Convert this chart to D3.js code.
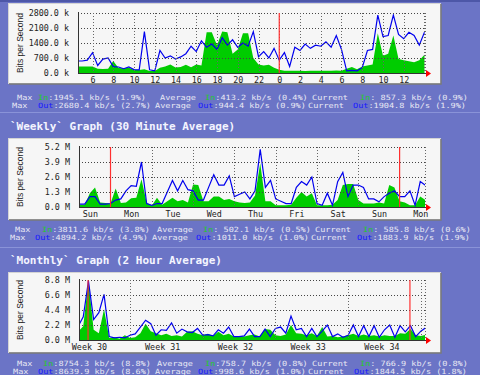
<!DOCTYPE html>
<html>
<head>
<meta charset="utf-8">
<script src="https://cdn.jsdelivr.net/npm/d3@7"></script>
<style>
html, body { margin: 0; padding: 0; background: #6b74c6; }
svg { display: block; }
text { white-space: pre; }
</style>
</head>
<body>
<svg id="chart" width="480" height="375"></svg>
<script>
// ===============================
// Data
// ===============================

// Daily graph: samples every 0.5 h, hours relative to midnight
const dailyStart = -19.5, dailyStep = 0.5;
const dailyIn = [300, 300, 300, 300, 200, 190, 200, 560, 230, 220, 240, 150, 140, 180, 90, 90,
    250, 300, 400, 260, 280, 380, 270, 400, 350, 1900, 1900, 1300, 1940, 1900, 900, 1100,
    1850, 1850, 700, 400, 350, 380, 250, 150, 100, 110, 100, 100, 90, 110, 100, 100,
    110, 100, 120, 100, 200, 280, 180, 300, 350, 400, 1850, 800, 900, 1750, 650, 600,
    550, 500, 600, 850];
const dailyOut = [560, 560, 600, 950, 350, 650, 700, 300, 280, 200, 280, 160, 150, 1930, 150, 100,
    1050, 700, 800, 650, 750, 900, 1250, 1000, 1500, 1200, 1350, 1100, 1650, 1300, 1550, 1200,
    1400, 1250, 1930, 760, 1000, 700, 1150, 600, 950, 300, 1200, 1050, 1350, 1150, 1300, 1250,
    1450, 1200, 1750, 1100, 100, 120, 100, 250, 1050, 1100, 2700, 1700, 1750, 2700, 1800, 1600,
    1900, 1750, 1300, 1900];
const dailyHourTicks = [-18, -16, -14, -12, -10, -8, -6, -4, -2, 0, 2, 4, 6, 8, 10, 12];
const dailyYTicks = [0, 700, 1400, 2100, 2800];
const dailyYLabels = ["0.0 k", "700.0 k", "1400.0 k", "2100.0 k", "2800.0 k"];

// Weekly graph: samples every 3 h, days relative to Monday 00:00
const weeklyStart = -0.75, weeklyStep = 0.125;
const weeklyIn = [0.2, 0.2, 1.2, 1.7, 0.4, 0.35, 0.3, 1.6, 0.35, 0.4, 0.75, 0.8, 2.4, 0.4, 0.1, 0.8,
    0.2, 0.5, 0.8, 0.5, 0.6, 0.4, 1.95, 1.9, 0.5, 0.5, 0.9, 0.9, 0.6, 0.7, 0.5, 0.4,
    0.35, 0.4, 1.0, 3.8, 0.5, 0.5, 0.15, 0.15, 0.15, 0.2, 0.8, 1.3, 0.9, 1.2, 0.15, 0.15,
    0.15, 0.2, 0.6, 1.9, 2.0, 2.0, 0.6, 0.3, 0.3, 0.3, 0.4, 0.3, 1.9, 1.7, 0.5, 0.4,
    0.15, 0.15, 0.9, 0.6];
const weeklyOut = [0.25, 0.25, 0.9, 0.9, 0.25, 0.25, 0.3, 0.6, 0.7, 1.4, 1.85, 1.8, 3.9, 0.3, 0.15, 0.3,
    0.3, 1.3, 2.3, 1.4, 2.3, 1.5, 1.4, 0.6, 0.6, 1.7, 2.8, 1.9, 1.9, 2.7, 0.9, 1.1,
    1.3, 0.7, 1.4, 5.0, 1.7, 2.3, 0.7, 0.5, 0.3, 0.3, 1.7, 2.2, 1.9, 2.6, 0.3, 0.15,
    1.2, 0.15, 2.2, 3.0, 0.9, 1.9, 1.9, 1.7, 0.7, 0.7, 0.45, 0.9, 1.2, 1.4, 0.9, 0.9,
    1.4, 0.15, 2.2, 1.88];
const weekDays = ["Sun", "Mon", "Tue", "Wed", "Thu", "Fri", "Sat", "Sun", "Mon"];
const weekDayPos = [-0.5, 0.5, 1.5, 2.5, 3.5, 4.5, 5.5, 6.5, 7.5];
const weeklyYTicks = [0, 1.3, 2.6, 3.9, 5.2];
const weeklyYLabels = ["0.0 M", "1.3 M", "2.6 M", "3.9 M", "5.2 M"];

// Monthly graph: samples every 12 h, days relative to start of week 31
const monthlyStart = -5, monthlyStep = 0.5;
const monthlyIn = [1.2, 2.0, 8.75, 1.5, 1.0, 4.5, 0.3, 0.4, 0.2, 0.7,
    0.3, 0.4, 1.0, 2.4, 1.3, 1.0, 0.7, 0.9, 0.6, 0.7,
    0.5, 1.2, 1.3, 0.9, 0.7, 0.9, 0.6, 1.2, 0.7, 0.9,
    0.5, 0.6, 0.5, 0.7, 0.8, 0.5, 1.6, 1.5, 0.7, 0.6,
    0.8, 2.2, 1.0, 0.9, 0.7, 1.0, 0.6, 1.9, 0.5, 0.6,
    0.4, 0.5, 0.7, 0.9, 0.6, 0.8, 0.6, 0.7, 0.5, 0.7,
    0.6, 0.6, 1.0, 0.9, 1.6, 0.7, 0.6, 0.77];
const monthlyOut = [2.0, 3.4, 8.64, 3.0, 4.0, 6.7, 0.5, 0.3, 0.4, 0.3,
    0.7, 0.9, 1.9, 2.9, 2.4, 0.7, 1.5, 1.4, 2.5, 1.0,
    1.6, 1.2, 1.1, 1.7, 0.7, 0.8, 0.6, 1.5, 1.0, 1.9,
    0.5, 0.5, 0.6, 1.6, 0.5, 0.5, 1.6, 0.5, 1.7, 1.9,
    1.0, 3.5, 1.5, 1.7, 0.5, 1.7, 0.5, 1.3, 2.2, 0.5,
    0.9, 0.4, 0.7, 2.2, 0.5, 2.1, 0.5, 2.1, 0.4, 1.5,
    2.2, 0.4, 2.1, 1.2, 2.1, 0.5, 1.3, 1.84];
const weekNames = ["Week 30", "Week 31", "Week 32", "Week 33", "Week 34"];
const weekNamePos = [-3.95, 3.1, 10.1, 17.1, 24.2];
const monthlyYTicks = [0, 2.2, 4.4, 6.6, 8.8];
const monthlyYLabels = ["0.0 M", "2.2 M", "4.4 M", "6.6 M", "8.8 M"];

// Summary lines under each graph
const dailyStatsIn = ["1945.1 kb/s (1.9%)", "413.2 kb/s (0.4%)", " 857.3 kb/s (0.9%)"];
const dailyStatsOut = ["2680.4 kb/s (2.7%)", "944.4 kb/s (0.9%)", "1904.8 kb/s (1.9%)"];
const weeklyStatsIn = ["3811.6 kb/s (3.8%)", " 502.1 kb/s (0.5%)", " 585.8 kb/s (0.6%)"];
const weeklyStatsOut = ["4894.2 kb/s (4.9%)", "1011.0 kb/s (1.0%)", "1883.9 kb/s (1.9%)"];
const monthlyStatsIn = ["8754.3 kb/s (8.8%)", "758.7 kb/s (0.8%)", " 766.9 kb/s (0.8%)"];
const monthlyStatsOut = ["8639.9 kb/s (8.6%)", "998.6 kb/s (1.0%)", "1844.5 kb/s (1.8%)"];

// ===============================
// Page
// ===============================
const svg = d3.select("#chart");
const mono = "'DejaVu Sans Mono', 'Liberation Mono', monospace";

svg.append("rect").attr("width", 480).attr("height", 375).attr("fill", "#6b74c6");
svg.append("rect").attr("width", 480).attr("height", 2).attr("fill", "#4d57a8");
[112.5, 247.5].forEach(yy => {
    svg.append("line").attr("x1", 0).attr("x2", 480).attr("y1", yy).attr("y2", yy)
        .attr("stroke", "#8a93d8").attr("stroke-width", 1);
});

// section titles
svg.append("text").attr("x", 10).attr("y", 129.5)
    .attr("font-family", mono).attr("font-size", 11).attr("font-weight", "bold")
    .attr("fill", "#f4f4ff").text("`Weekly` Graph (30 Minute Average)");
svg.append("text").attr("x", 10).attr("y", 263.5)
    .attr("font-family", mono).attr("font-size", 11).attr("font-weight", "bold")
    .attr("fill", "#f4f4ff").text("`Monthly` Graph (2 Hour Average)");

drawPanel({
    id: "day", boxTop: 3, boxBottom: 83, top: 13, bottom: 73, left: 78,
    xDomain: [-19.4, 14.05], start: dailyStart, step: dailyStep,
    inVals: dailyIn, outVals: dailyOut, yMax: 2800,
    yTicks: dailyYTicks, yLabels: dailyYLabels,
    grid: dailyHourTicks.concat([14]), red: [0],
    labelPos: dailyHourTicks, labels: dailyHourTicks.map(h => String((h + 24) % 24)),
    statsIn: dailyStatsIn, statsOut: dailyStatsOut,
    rowY: [99.6, 107.8],
    inX: [17, 38, 160, 205, 312, 360], outX: [12, 38, 155, 198, 308, 353]
});

drawPanel({
    id: "week", boxTop: 138, boxBottom: 219, top: 147, bottom: 207, left: 79,
    xDomain: [-0.763, 7.615], start: weeklyStart, step: weeklyStep,
    inVals: weeklyIn, outVals: weeklyOut, yMax: 5.2,
    yTicks: weeklyYTicks, yLabels: weeklyYLabels,
    grid: [1, 2, 3, 4, 5, 6], red: [0, 7],
    labelPos: weekDayPos, labels: weekDays,
    statsIn: weeklyStatsIn, statsOut: weeklyStatsOut,
    rowY: [232.0, 240.3],
    inX: [15, 42, 157, 203, 315, 363], outX: [10, 35, 152, 196, 311, 357]
});

drawPanel({
    id: "month", boxTop: 272, boxBottom: 352, top: 280, bottom: 340, left: 79,
    xDomain: [-4.91, 28.4], start: monthlyStart, step: monthlyStep,
    inVals: monthlyIn, outVals: monthlyOut, yMax: 8.8,
    yTicks: monthlyYTicks, yLabels: monthlyYLabels,
    grid: [0, 7, 14, 21, 28], red: [-4.04, 26.95],
    labelPos: weekNamePos, labels: weekNames,
    statsIn: monthlyStatsIn, statsOut: monthlyStatsOut,
    rowY: [365.7, 374.0],
    inX: [17, 43, 157, 205, 312, 360], outX: [13, 38, 155, 198, 308, 354]
});

// ===============================
// One MRTG graph + its summary
// ===============================
function drawPanel(p) {
    const right = 425;
    const g = svg.append("g");

    // panel box
    g.append("rect")
        .attr("x", 8.5).attr("y", p.boxTop + 0.5)
        .attr("width", 432).attr("height", p.boxBottom - p.boxTop)
        .attr("fill", "#f6f6f6").attr("stroke", "#d4d4d4");
    g.append("path")
        .attr("d", `M441,${p.boxTop + 1}V${p.boxBottom + 1}H9`)
        .attr("fill", "none").attr("stroke", "#7a7a7a").attr("stroke-width", 1.5);

    const x = d3.scaleLinear().domain(p.xDomain).range([p.left, right]);
    const y = d3.scaleLinear().domain([0, p.yMax]).range([p.bottom, p.top]);

    const pts = p.inVals.map((v, i) => ({ t: p.start + i * p.step, vin: v, vout: p.outVals[i] }));

    g.append("clipPath").attr("id", "clip-" + p.id)
        .append("rect").attr("x", p.left).attr("y", p.top - 2)
        .attr("width", right - p.left).attr("height", p.bottom - p.top + 2);

    const plot = g.append("g").attr("clip-path", `url(#clip-${p.id})`);

    // In traffic (green area)
    plot.append("path")
        .datum(pts)
        .attr("fill", "#00cc00")
        .attr("d", d3.area().x(d => x(d.t)).y0(y(0)).y1(d => y(d.vin)));

    // grid
    p.yTicks.slice(1).forEach(v => {
        g.append("line")
            .attr("x1", p.left).attr("x2", right)
            .attr("y1", Math.round(y(v)) + 0.5).attr("y2", Math.round(y(v)) + 0.5)
            .attr("stroke", "#444").attr("stroke-dasharray", "1,2");
    });
    p.grid.forEach(t => {
        const xx = Math.round(x(t)) + 0.5;
        if (xx < p.left || xx > right + 1) return;
        g.append("line")
            .attr("x1", xx).attr("x2", xx).attr("y1", p.top).attr("y2", p.bottom)
            .attr("stroke", "#666").attr("stroke-dasharray", "1,2");
    });
    g.append("line")
        .attr("x1", right + 0.5).attr("x2", right + 0.5).attr("y1", p.top).attr("y2", p.bottom)
        .attr("stroke", "#666").attr("stroke-dasharray", "1,2");

    // Out traffic (blue line)
    plot.append("path")
        .datum(pts)
        .attr("fill", "none")
        .attr("stroke", "#0000ee")
        .attr("stroke-width", 1.2)
        .attr("d", d3.line().x(d => x(d.t)).y(d => y(d.vout)));

    // red period markers
    p.red.forEach(t => {
        g.append("line")
            .attr("x1", x(t)).attr("x2", x(t)).attr("y1", p.top).attr("y2", p.bottom)
            .attr("stroke", "#ff3030").attr("stroke-width", 1.2);
    });

    // frame axes
    g.append("line").attr("x1", p.left + 0.5).attr("x2", p.left + 0.5)
        .attr("y1", p.top - 1).attr("y2", p.bottom + 1).attr("stroke", "#333");
    g.append("line").attr("x1", p.left).attr("x2", right + 3)
        .attr("y1", p.bottom + 0.5).attr("y2", p.bottom + 0.5).attr("stroke", "#333");
    g.append("path")
        .attr("d", `M${right + 1},${p.bottom - 3}L${right + 6},${p.bottom + 0.5}L${right + 1},${p.bottom + 4}Z`)
        .attr("fill", "#ff0000");

    // y labels
    const ya = g.append("g")
        .attr("transform", `translate(${p.left},0)`)
        .call(d3.axisLeft(y).tickValues(p.yTicks)
            .tickFormat((d, i) => p.yLabels[i]).tickSize(0).tickPadding(9));
    ya.select(".domain").remove();
    ya.selectAll("text").attr("font-family", mono).attr("font-size", 8.4).attr("fill", "#222");

    // x labels
    const xa = g.append("g")
        .attr("transform", `translate(0,${p.bottom})`)
        .call(d3.axisBottom(x).tickValues(p.labelPos)
            .tickFormat((d, i) => p.labels[i]).tickSize(0).tickPadding(4));
    xa.select(".domain").remove();
    xa.selectAll("text").attr("font-family", mono).attr("font-size", 8.4).attr("fill", "#222");

    // axis title
    g.append("text")
        .attr("transform", `translate(23,${(p.top + p.bottom) / 2}) rotate(-90)`)
        .attr("text-anchor", "middle")
        .attr("font-family", "'Liberation Sans', Arial, sans-serif")
        .attr("font-size", 8.5).attr("fill", "#222")
        .text("Bits per Second");

    // summary rows
    statsRow(p.rowY[0], p.inX, "In", "#22cc22", p.statsIn);
    statsRow(p.rowY[1], p.outX, "Out", "#1a1aff", p.statsOut);
}

// one summary line; the squat bitmap font is imitated with a vertical squeeze
function statsRow(yy, xs, name, color, vals) {
    const words = ["Max", null, "Average", null, "Current", null];
    words.forEach((w, i) => {
        const t = svg.append("text")
            .attr("transform", `translate(${xs[i]},${yy}) scale(1,0.84)`)
            .attr("font-family", mono).attr("font-size", 8.55).attr("fill", "#e8e8f4");
        if (w) {
            t.text(w);
        } else {
            t.append("tspan").attr("fill", color).text(name);
            t.append("tspan").text(":" + vals[(i - 1) / 2]);
        }
    });
}
</script>
</body>
</html>
